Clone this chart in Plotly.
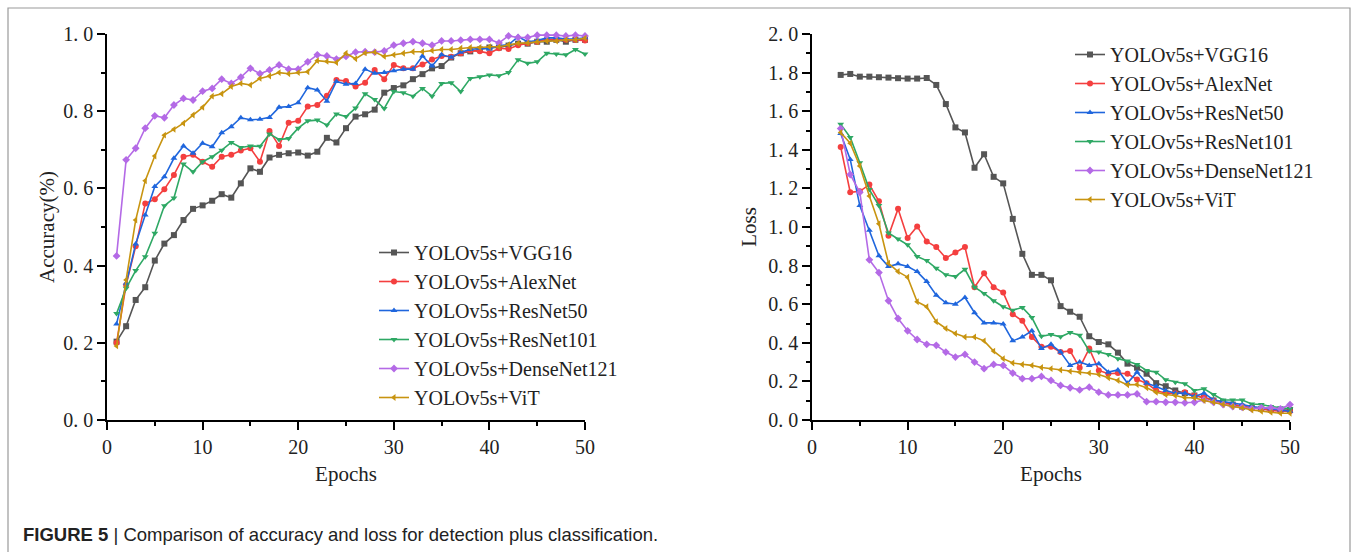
import plotly.graph_objects as go

# ---------------- data ----------------
series_names = ["YOLOv5s+VGG16", "YOLOv5s+AlexNet", "YOLOv5s+ResNet50",
                "YOLOv5s+ResNet101", "YOLOv5s+DenseNet121", "YOLOv5s+ViT"]

acc_epochs = list(range(1, 51))
loss_epochs = list(range(3, 51))

acc_vgg16 = [0.203, 0.243, 0.311, 0.344, 0.413, 0.457, 0.479, 0.518, 0.547, 0.556,
             0.568, 0.585, 0.576, 0.613, 0.652, 0.643, 0.680, 0.687, 0.691, 0.693,
             0.685, 0.695, 0.731, 0.719, 0.756, 0.786, 0.792, 0.804, 0.848, 0.860,
             0.867, 0.883, 0.896, 0.911, 0.917, 0.939, 0.950, 0.955, 0.960, 0.965,
             0.965, 0.970, 0.975, 0.975, 0.980, 0.980, 0.985, 0.980, 0.985, 0.985]
acc_alexnet = [0.200, 0.350, 0.450, 0.561, 0.572, 0.598, 0.635, 0.682, 0.687, 0.669,
               0.656, 0.682, 0.687, 0.698, 0.704, 0.669, 0.749, 0.710, 0.770, 0.775,
               0.812, 0.816, 0.840, 0.881, 0.878, 0.864, 0.874, 0.907, 0.883, 0.920,
               0.911, 0.911, 0.921, 0.934, 0.943, 0.941, 0.950, 0.957, 0.955, 0.950,
               0.963, 0.961, 0.971, 0.976, 0.980, 0.986, 0.986, 0.985, 0.985, 0.983]
acc_resnet50 = [0.249, 0.354, 0.456, 0.531, 0.605, 0.630, 0.678, 0.710, 0.691, 0.717,
                0.708, 0.744, 0.760, 0.783, 0.778, 0.779, 0.784, 0.810, 0.812, 0.822,
                0.861, 0.855, 0.826, 0.877, 0.870, 0.872, 0.909, 0.898, 0.900, 0.905,
                0.909, 0.909, 0.943, 0.917, 0.946, 0.940, 0.953, 0.960, 0.963, 0.961,
                0.970, 0.972, 0.993, 0.980, 0.983, 0.990, 0.990, 0.987, 0.987, 0.990]
acc_resnet101 = [0.276, 0.341, 0.387, 0.423, 0.484, 0.555, 0.575, 0.663, 0.643, 0.669,
                 0.682, 0.699, 0.719, 0.706, 0.710, 0.709, 0.741, 0.727, 0.729, 0.756,
                 0.775, 0.777, 0.764, 0.793, 0.786, 0.808, 0.845, 0.830, 0.807, 0.851,
                 0.848, 0.839, 0.859, 0.839, 0.872, 0.874, 0.851, 0.885, 0.889, 0.894,
                 0.892, 0.900, 0.933, 0.924, 0.928, 0.950, 0.948, 0.946, 0.960, 0.948]
acc_densenet121 = [0.425, 0.674, 0.704, 0.756, 0.788, 0.783, 0.816, 0.833, 0.829, 0.852,
                   0.859, 0.883, 0.872, 0.888, 0.911, 0.897, 0.907, 0.920, 0.909, 0.909,
                   0.928, 0.946, 0.943, 0.935, 0.942, 0.953, 0.954, 0.953, 0.956, 0.971,
                   0.976, 0.980, 0.976, 0.971, 0.982, 0.982, 0.984, 0.986, 0.986, 0.986,
                   0.977, 0.995, 0.991, 0.991, 0.997, 0.997, 0.997, 0.995, 0.997, 0.995]
acc_vit = [0.192, 0.363, 0.518, 0.620, 0.684, 0.738, 0.753, 0.769, 0.790, 0.810,
           0.839, 0.845, 0.864, 0.872, 0.868, 0.885, 0.891, 0.900, 0.897, 0.900,
           0.902, 0.931, 0.929, 0.926, 0.950, 0.936, 0.951, 0.953, 0.942, 0.946,
           0.950, 0.954, 0.954, 0.957, 0.960, 0.960, 0.963, 0.965, 0.965, 0.967,
           0.967, 0.972, 0.976, 0.977, 0.980, 0.982, 0.982, 0.985, 0.985, 0.989]

loss_vgg16 = [1.788, 1.793, 1.779, 1.779, 1.776, 1.774, 1.771, 1.769, 1.769, 1.772,
              1.736, 1.637, 1.516, 1.490, 1.307, 1.377, 1.260, 1.226, 1.042, 0.861,
              0.752, 0.752, 0.724, 0.590, 0.561, 0.535, 0.434, 0.404, 0.392, 0.349,
              0.292, 0.271, 0.240, 0.191, 0.175, 0.153, 0.139, 0.127, 0.115, 0.101,
              0.092, 0.080, 0.069, 0.063, 0.058, 0.052, 0.052, 0.052]
loss_alexnet = [1.415, 1.180, 1.185, 1.220, 1.133, 0.955, 1.094, 0.943, 1.003, 0.925,
                0.896, 0.839, 0.868, 0.896, 0.688, 0.760, 0.688, 0.660, 0.548, 0.514,
                0.430, 0.380, 0.380, 0.352, 0.358, 0.271, 0.370, 0.257, 0.240, 0.243,
                0.240, 0.210, 0.191, 0.153, 0.139, 0.139, 0.144, 0.127, 0.118, 0.101,
                0.087, 0.080, 0.070, 0.063, 0.058, 0.049, 0.045, 0.045]
loss_resnet50 = [1.484, 1.350, 1.111, 0.983, 0.851, 0.795, 0.809, 0.795, 0.769, 0.717,
                 0.647, 0.607, 0.600, 0.635, 0.556, 0.503, 0.503, 0.497, 0.410, 0.430,
                 0.462, 0.370, 0.392, 0.352, 0.283, 0.300, 0.283, 0.292, 0.248, 0.259,
                 0.191, 0.248, 0.191, 0.174, 0.153, 0.139, 0.139, 0.122, 0.139, 0.104,
                 0.097, 0.087, 0.080, 0.070, 0.063, 0.058, 0.052, 0.045]
loss_resnet101 = [1.533, 1.464, 1.333, 1.194, 1.111, 0.969, 0.938, 0.908, 0.847, 0.826,
                  0.786, 0.752, 0.743, 0.781, 0.688, 0.656, 0.618, 0.587, 0.569, 0.583,
                  0.531, 0.434, 0.443, 0.431, 0.453, 0.439, 0.357, 0.352, 0.340, 0.318,
                  0.306, 0.288, 0.257, 0.248, 0.208, 0.196, 0.188, 0.153, 0.162, 0.132,
                  0.104, 0.104, 0.104, 0.083, 0.080, 0.070, 0.063, 0.058]
loss_densenet121 = [1.510, 1.272, 1.180, 0.830, 0.764, 0.618, 0.526, 0.462, 0.417, 0.392,
                    0.387, 0.352, 0.326, 0.340, 0.300, 0.266, 0.288, 0.283, 0.243, 0.214,
                    0.214, 0.226, 0.205, 0.179, 0.167, 0.156, 0.170, 0.144, 0.130, 0.130,
                    0.130, 0.135, 0.095, 0.095, 0.092, 0.092, 0.089, 0.092, 0.104, 0.092,
                    0.080, 0.070, 0.066, 0.058, 0.063, 0.063, 0.058, 0.080]
loss_vit = [1.490, 1.434, 1.316, 1.160, 1.017, 0.812, 0.769, 0.740, 0.613, 0.587,
            0.509, 0.474, 0.448, 0.430, 0.430, 0.410, 0.357, 0.318, 0.295, 0.288,
            0.283, 0.272, 0.266, 0.259, 0.252, 0.248, 0.243, 0.236, 0.219, 0.205,
            0.182, 0.184, 0.167, 0.144, 0.132, 0.127, 0.115, 0.115, 0.101, 0.092,
            0.080, 0.070, 0.063, 0.052, 0.045, 0.040, 0.035, 0.035]

acc_series = [acc_vgg16, acc_alexnet, acc_resnet50, acc_resnet101, acc_densenet121, acc_vit]
loss_series = [loss_vgg16, loss_alexnet, loss_resnet50, loss_resnet101, loss_densenet121, loss_vit]

acc_ticks = [0.0, 0.2, 0.4, 0.6, 0.8, 1.0]
acc_ticktext = ["0. 0", "0. 2", "0. 4", "0. 6", "0. 8", "1. 0"]
loss_ticks = [0.0, 0.2, 0.4, 0.6, 0.8, 1.0, 1.2, 1.4, 1.6, 1.8, 2.0]
loss_ticktext = ["0. 0", "0. 2", "0. 4", "0. 6", "0. 8", "1. 0", "1. 2", "1. 4", "1. 6", "1. 8", "2. 0"]
epoch_ticks = [0, 10, 20, 30, 40, 50]

caption_bold = "FIGURE 5"
caption_text = "Comparison of accuracy and loss for detection plus classification."

# ---------------- styles ----------------
colors = ["#555555", "#f43f3f", "#1f66dd", "#2ea864", "#b46ae6", "#c89410"]
symbols = ["square", "circle", "triangle-up", "triangle-down", "diamond", "triangle-left"]
SERIF = "Liberation Serif"
TXT = "#222222"

fig = go.Figure()

for name, ys, c, s in zip(series_names, acc_series, colors, symbols):
    fig.add_trace(go.Scatter(
        x=acc_epochs, y=ys, name=name, mode="lines+markers",
        line=dict(color=c, width=1.6), marker=dict(symbol=s, size=6, color=c),
        xaxis="x", yaxis="y", legend="legend", cliponaxis=False))

for name, ys, c, s in zip(series_names, loss_series, colors, symbols):
    fig.add_trace(go.Scatter(
        x=loss_epochs, y=ys, name=name, mode="lines+markers",
        line=dict(color=c, width=1.6), marker=dict(symbol=s, size=6, color=c),
        xaxis="x2", yaxis="y2", legend="legend2", cliponaxis=False))

W, H = 1356, 552
def px(x):
    return x / W
def py(y):
    return 1 - y / H

axis_common = dict(
    showgrid=False, zeroline=False, showline=True, linecolor="black", linewidth=1.6,
    ticks="outside", ticklen=8, tickwidth=1.5, tickcolor="black",
    tickfont=dict(family=SERIF, size=20, color=TXT),
    mirror=False, automargin=False,
)

xaxis_common = dict(axis_common, range=[0, 50], tickvals=epoch_ticks,
                    minor=dict(dtick=5, tick0=0, ticks="outside", ticklen=4, tickwidth=1.5, tickcolor="black"))

title_font = dict(family=SERIF, size=21, color=TXT)
legend_font = dict(family=SERIF, size=20, color=TXT)

fig.update_layout(
    width=W, height=H,
    margin=dict(l=0, r=0, t=0, b=0, pad=0),
    paper_bgcolor="white", plot_bgcolor="white",
    showlegend=True,
    xaxis=dict(xaxis_common, domain=[px(107), px(585)], anchor="y",
               title=dict(text="Epochs", font=title_font, standoff=10)),
    yaxis=dict(axis_common, domain=[py(420), py(34)], anchor="x", range=[0, 1.0],
               tickvals=acc_ticks, ticktext=acc_ticktext,
               minor=dict(dtick=0.1, tick0=0, ticks="outside", ticklen=4, tickwidth=1.5, tickcolor="black"),
               title=dict(text="Accuracy(%)", font=title_font, standoff=3)),
    xaxis2=dict(xaxis_common, domain=[px(812), px(1290)], anchor="y2",
                title=dict(text="Epochs", font=title_font, standoff=10)),
    yaxis2=dict(axis_common, domain=[py(420), py(34)], anchor="x2", range=[0, 2.0],
                tickvals=loss_ticks, ticktext=loss_ticktext,
                minor=dict(dtick=0.1, tick0=0, ticks="outside", ticklen=4, tickwidth=1.5, tickcolor="black"),
                title=dict(text="Loss", font=title_font, standoff=6)),
    legend=dict(x=px(374), y=py(233), xanchor="left", yanchor="top",
                bgcolor="rgba(0,0,0,0)", font=legend_font,
                tracegroupgap=0, itemsizing="trace"),
    legend2=dict(x=px(1070), y=py(35), xanchor="left", yanchor="top",
                 bgcolor="rgba(0,0,0,0)", font=legend_font,
                 tracegroupgap=0, itemsizing="trace"),
    shapes=[dict(type="rect", xref="paper", yref="paper",
                 x0=px(8), x1=px(1350), y0=-0.05, y1=py(8),
                 line=dict(color="#9a9a9a", width=1.2), fillcolor="rgba(0,0,0,0)", layer="below")],
    annotations=[dict(xref="paper", yref="paper", x=px(21), y=py(534), xanchor="left", yanchor="middle",
                      showarrow=False,
                      text="<b>" + caption_bold + "</b> | " + caption_text,
                      font=dict(family="Liberation Sans", size=18.5, color=TXT))],
)

fig.write_html("out.html",
               config={"displayModeBar": False},
               post_script="document.body.style.margin='0';document.body.style.overflow='hidden';")
